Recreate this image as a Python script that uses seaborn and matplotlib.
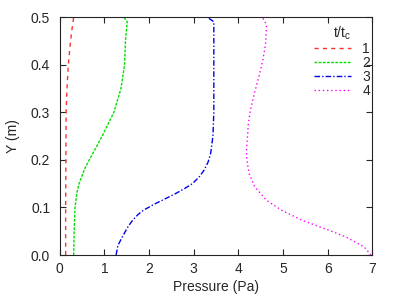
import matplotlib
matplotlib.use("Agg")
import matplotlib.pyplot as plt
import seaborn as sns
import pandas as pd

# values
y1 = [0.0, 0.1, 0.2, 0.3, 0.35, 0.4, 0.45, 0.48, 0.5]
p1 = [0.13, 0.13, 0.135, 0.14, 0.16, 0.19, 0.24, 0.28, 0.31]

y2 = [0.0, 0.05, 0.1, 0.13, 0.15, 0.18, 0.2, 0.25, 0.3, 0.35, 0.4, 0.45, 0.49, 0.5]
p2 = [0.31, 0.32, 0.34, 0.38, 0.43, 0.55, 0.66, 0.95, 1.21, 1.37, 1.45, 1.47, 1.51, 1.43]

y3 = [0.0, 0.02, 0.04, 0.06, 0.073, 0.085, 0.094, 0.108, 0.12, 0.129, 0.14, 0.15,
      0.165, 0.178, 0.195, 0.214, 0.25, 0.3, 0.4, 0.49, 0.5]
p3 = [1.26, 1.3, 1.41, 1.53, 1.63, 1.75, 1.87, 2.14, 2.4, 2.59, 2.8, 2.97,
      3.13, 3.23, 3.32, 3.38, 3.43, 3.45, 3.45, 3.45, 3.3]

y4 = [0.0, 0.017, 0.038, 0.052, 0.073, 0.094, 0.115, 0.143, 0.171, 0.2, 0.22,
      0.256, 0.273, 0.305, 0.34, 0.375, 0.41, 0.445, 0.48, 0.49, 0.5]
p4 = [6.97, 6.82, 6.41, 6.03, 5.43, 4.97, 4.63, 4.37, 4.24, 4.19, 4.18,
      4.21, 4.22, 4.27, 4.36, 4.46, 4.55, 4.61, 4.63, 4.6, 4.53]

labels = ["1", "2", "3", "4"]
colors = ["#ff3030", "#00e000", "#0000ee", "#ff00ff"]
styles = [(0, (3, 3)), (0, (2, 1)), (0, (4, 1.5, 1, 1.5)), (0, (1, 2))]

sns.set_style("ticks")
plt.rcParams["font.family"] = ["Liberation Sans", "DejaVu Sans"]

fig, ax = plt.subplots(figsize=(3.99, 2.99), dpi=100)
fig.subplots_adjust(left=0.150, right=0.933, bottom=0.147, top=0.943)

for ys, ps, lab, col, ls in zip([y1, y2, y3, y4], [p1, p2, p3, p4], labels, colors, styles):
    df = pd.DataFrame({"Pressure": ps, "Y": ys})
    sns.lineplot(data=df, x="Pressure", y="Y", orient="y", sort=False, estimator=None,
                 ax=ax, color=col, linestyle=ls, linewidth=1.0, label=lab)

ax.set_xlim(0, 7)
ax.set_ylim(0, 0.5)
ax.set_xticks(range(0, 8))
ax.set_yticks([0.0, 0.1, 0.2, 0.3, 0.4, 0.5])
ax.set_yticklabels(["0.0", "0.1", "0.2", "0.3", "0.4", "0.5"])
ax.tick_params(direction="in", length=4, top=True, right=True, labelsize=10)
ax.tick_params(axis="y", pad=7)
ax.tick_params(axis="x", pad=5)
ax.set_xlabel("Pressure (Pa)", fontsize=10, labelpad=3)
ax.set_ylabel("Y (m)", fontsize=10, labelpad=8)

ax.legend(title="t/t$_\\mathregular{c}$", loc="upper right", bbox_to_anchor=(1.025, 1.01),
          frameon=False, fontsize=10, title_fontsize=10, handlelength=2.7,
          labelspacing=0.0, handletextpad=0.8, borderpad=0.2)

fig.savefig("out.png", dpi=100)
